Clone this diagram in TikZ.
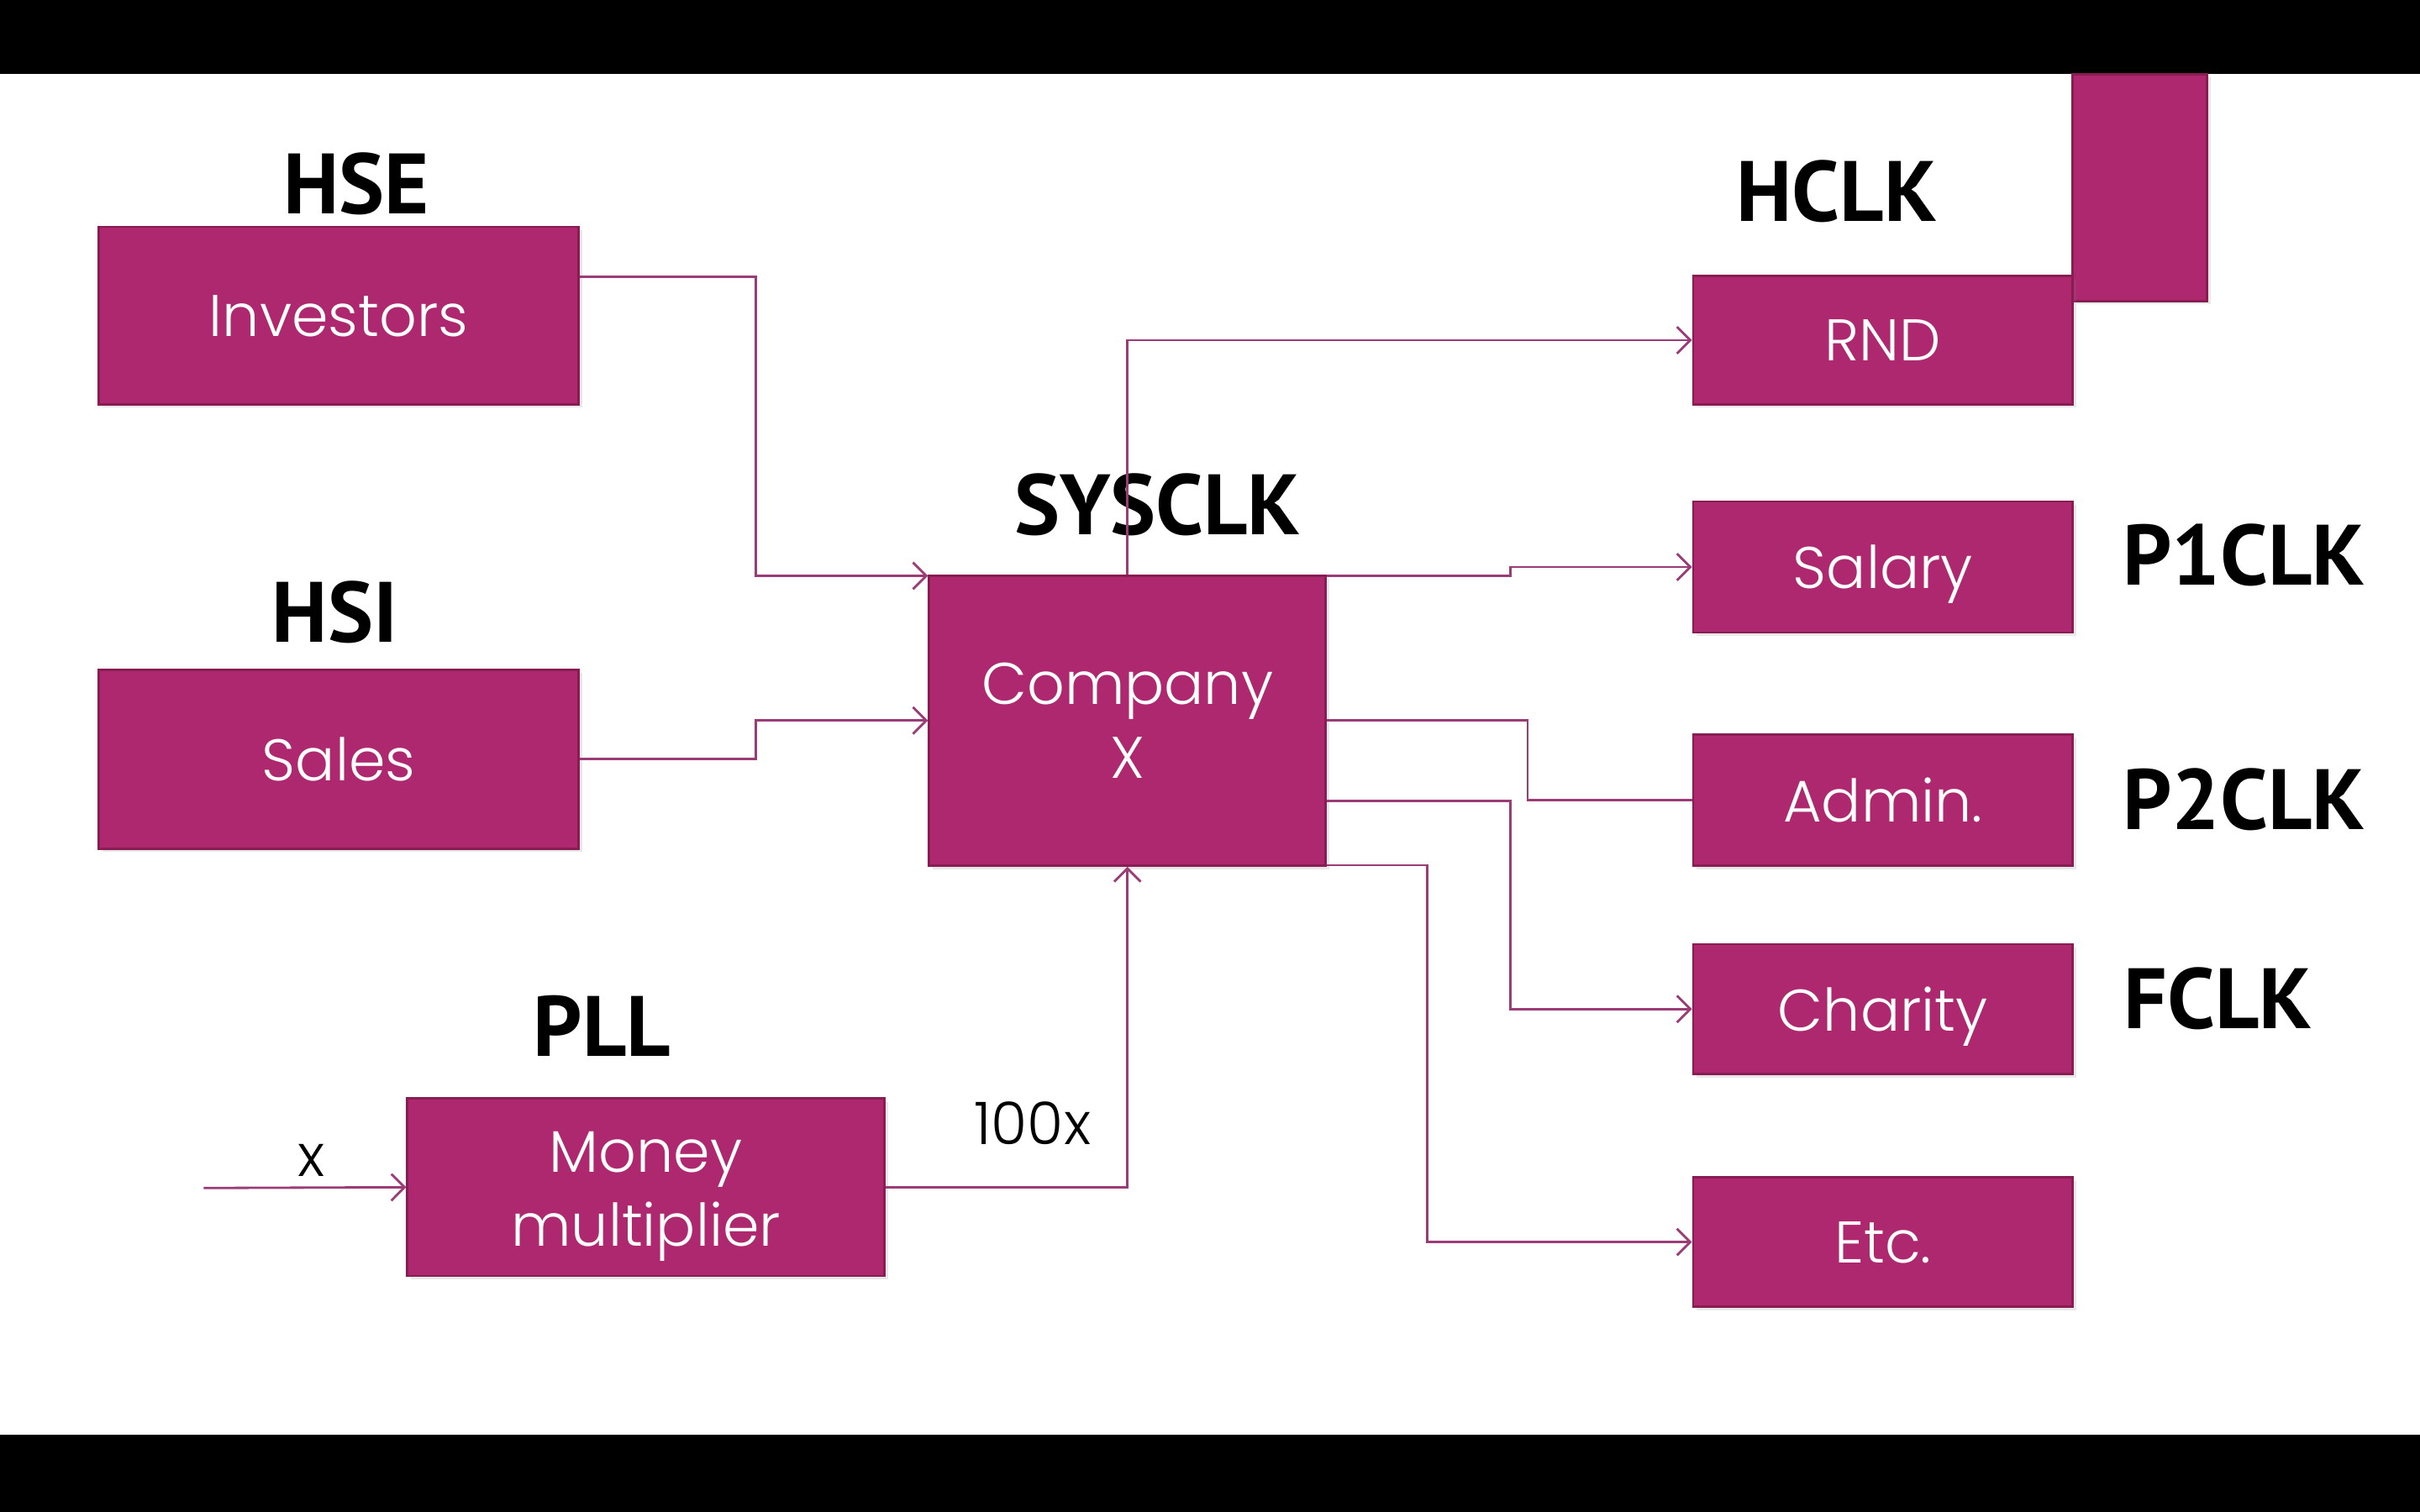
\documentclass[tikz,border=0pt]{standalone}
\usepackage{fontspec}
\setmainfont{Poppins}
\newfontfamily\boxfont{Poppins Light}
\newfontfamily\lblfont{PT Sans}
\usetikzlibrary{arrows.meta,shadows}
\definecolor{boxc}{RGB}{173,40,110}
\definecolor{boxb}{RGB}{138,28,84}
\definecolor{linec}{RGB}{155,60,118}
\def\pxu{0.5226pt}
\tikzset{
  box/.style={rectangle, fill=boxc, draw=boxb, line width=0.8pt, inner sep=0pt,
    text=white, align=center, font=\boxfont\fontsize{19.9}{25}\selectfont,
    drop shadow={opacity=0.18, shadow xshift=1.2pt, shadow yshift=-1.2pt}},
  flat/.style={text depth=0pt},
  lbl/.style={inner sep=0pt, font=\lblfont\bfseries\fontsize{29}{32}\selectfont, text=black},
  plain/.style={inner sep=0pt, font=\boxfont\fontsize{19.9}{24}\selectfont, text=black},
  conn/.style={draw=linec, line width=0.8pt},
  arr/.style={conn, -{Straight Barb[length=4.5pt,width=9pt,line width=0.8pt]}}
}
\begin{document}
\begin{tikzpicture}[x=0.5226pt, y=-0.5226pt]
\useasboundingbox (0,0) rectangle (1568,980);
\fill[white] (0,0) rectangle (1568,980);
\fill[black] (0,0) rectangle (1568,48);
\fill[black] (0,930) rectangle (1568,980);

% boxes
\node[box, flat, minimum width=311*\pxu, minimum height=115*\pxu] (inv) at (219.5,204.5) {Investors};
\node[box, flat, minimum width=311*\pxu, minimum height=116*\pxu] (sal) at (219.5,492) {Sales};
\node[box, minimum width=309*\pxu, minimum height=115*\pxu] (mm) at (418.5,769.5) {\rule{0pt}{20pt}Money\\multiplier};
\node[box, minimum width=257*\pxu, minimum height=188*\pxu] (comp) at (730.5,467) {Company\\X};
\node[box, minimum width=87*\pxu, minimum height=147*\pxu] (corner) at (1386.5,121.5) {};
\node[box, flat, minimum width=246*\pxu, minimum height=83*\pxu] (rnd) at (1220,220.5) {RND};
\node[box, flat, minimum width=246*\pxu, minimum height=85*\pxu] (slr) at (1220,367.5) {Salary};
\node[box, flat, minimum width=246*\pxu, minimum height=85*\pxu] (adm) at (1220,518.5) {Admin.};
\node[box, flat, minimum width=246*\pxu, minimum height=84*\pxu] (cha) at (1220,654) {Charity};
\node[box, flat, minimum width=246*\pxu, minimum height=84*\pxu] (etc) at (1220,805) {Etc.};

% labels
\node[lbl] (lhse) at (231,119) {HSE};
\node[lbl] (lhsi) at (217,397) {HSI};
\node[lbl] (lpll) at (390,665) {PLL};
\node[lbl] (lsys) at (750,327) {SYSCLK};
\node[lbl] (lhclk) at (1190,124) {HCLK};
\node[lbl] (lp1) at (1454,360) {P1CLK};
\node[lbl] (lp2) at (1454,518) {P2CLK};
\node[lbl] (lf) at (1437,647) {FCLK};
\node[plain] (lx) at (202,752) {x};
\node[plain] (l100) at (669,728) {100x};

% connectors
\coordinate (xin) at (132,770);
\draw[arr] ([yshift=-33*\pxu]inv.north east) -- ++(114,0) |- ([yshift=-1*\pxu]comp.north west);
\draw[arr] (sal.east) -- ++(114,0) |- (comp.west);
\draw[arr] (mm.east) -| (comp.south);
\draw[arr] (xin) -- (mm.west);
\draw[arr] (comp.north) |- (rnd.west);
\draw[arr] ([yshift=-1*\pxu]comp.north east) -- ++(119,0) |- (slr.west);
\draw[conn] (comp.east) -- ++(130,0) |- (adm.west);
\draw[arr] ([yshift=-52*\pxu]comp.east) -- ++(119,0) |- (cha.west);
\draw[arr] ([yshift=1*\pxu]comp.south east) -- ++(65,0) |- (etc.west);
\end{tikzpicture}
\end{document}
